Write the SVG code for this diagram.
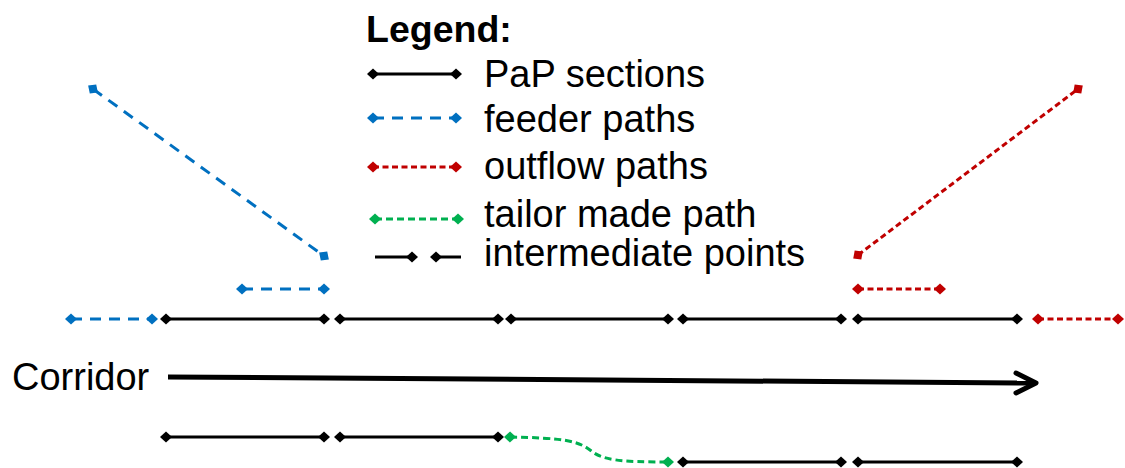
<svg xmlns="http://www.w3.org/2000/svg" width="1125" height="468" viewBox="0 0 1125 468">
<style>
text{font-family:"Liberation Sans",Arial,sans-serif;font-size:38px;fill:#000}
.t{font-weight:bold;font-size:37.5px}
.pap{stroke:#000;stroke-width:3;fill:none;marker-start:url(#dk);marker-end:url(#dk)}
.fee{stroke:#0070C0;stroke-width:3;fill:none;stroke-dasharray:11 8;marker-start:url(#db);marker-end:url(#db)}
.out{stroke:#C00000;stroke-width:3;fill:none;stroke-dasharray:6 3.5;marker-start:url(#dr);marker-end:url(#dr)}
.tai{stroke:#00B050;stroke-width:3;fill:none;stroke-dasharray:7 4;marker-start:url(#dg);marker-end:url(#dg)}
.ln{stroke:#000;stroke-width:3;fill:none}
</style>
<defs>
<marker id="dk" markerUnits="userSpaceOnUse" viewBox="-6 -6 12 12" markerWidth="12" markerHeight="12" orient="auto"><path d="M-6,0 L0,-5.5 L6,0 L0,5.5 Z" fill="#000"/></marker>
<marker id="db" markerUnits="userSpaceOnUse" viewBox="-6 -6 12 12" markerWidth="12" markerHeight="12" orient="auto"><path d="M-6,0 L0,-5.5 L6,0 L0,5.5 Z" fill="#0070C0"/></marker>
<marker id="dr" markerUnits="userSpaceOnUse" viewBox="-6 -6 12 12" markerWidth="12" markerHeight="12" orient="auto"><path d="M-6,0 L0,-5.5 L6,0 L0,5.5 Z" fill="#C00000"/></marker>
<marker id="dg" markerUnits="userSpaceOnUse" viewBox="-6 -6 12 12" markerWidth="12" markerHeight="12" orient="auto"><path d="M-6,0 L0,-5.5 L6,0 L0,5.5 Z" fill="#00B050"/></marker>
</defs>
<g id="legend">
<text class="t" x="366" y="42">Legend:</text>
<line class="pap" x1="373" y1="74" x2="456" y2="74"/>
<text x="484" y="87">PaP sections</text>
<line class="fee" x1="373" y1="118" x2="456" y2="118"/>
<text x="484" y="132">feeder paths</text>
<line class="out" x1="373" y1="167" x2="456" y2="167"/>
<text x="484" y="179">outflow paths</text>
<line class="tai" x1="375" y1="219" x2="458" y2="219"/>
<text x="484" y="227">tailor made path</text>
<line class="ln" x1="375" y1="257" x2="412" y2="257" style="marker-end:url(#dk)"/>
<line class="ln" x1="461" y1="257" x2="436" y2="257" style="marker-end:url(#dk)"/>
<text x="484" y="266">intermediate points</text>
</g>
<g id="corridor-label"><text x="12" y="390">Corridor</text></g>
<g id="feeder-paths">
<line id="feeder-1" class="fee" x1="93" y1="89" x2="324" y2="256"/>
<line id="feeder-2" class="fee" x1="242" y1="289" x2="324" y2="289"/>
<line id="feeder-3" class="fee" x1="71" y1="319" x2="152" y2="319"/>
</g>
<g id="outflow-paths">
<line id="outflow-1" class="out" x1="858" y1="255" x2="1078" y2="89"/>
<line id="outflow-2" class="out" x1="858" y1="289" x2="940" y2="289"/>
<line id="outflow-3" class="out" x1="1038" y1="319" x2="1118" y2="319"/>
</g>
<g id="pap-main">
<line id="pap-1" class="pap" x1="166" y1="319" x2="324" y2="319"/>
<line id="pap-2" class="pap" x1="340" y1="319" x2="498" y2="319"/>
<line id="pap-3" class="pap" x1="511" y1="319" x2="668" y2="319"/>
<line id="pap-4" class="pap" x1="683" y1="319" x2="841" y2="319"/>
<line id="pap-5" class="pap" x1="858" y1="319" x2="1017" y2="319"/>
</g>
<g id="pap-bottom">
<line id="pap-b1" class="pap" x1="166" y1="437" x2="324" y2="437"/>
<line id="pap-b2" class="pap" x1="340" y1="437" x2="498" y2="437"/>
<path id="tailor" class="tai" d="M510,437 C565,438 578,441 590,450 C602,460 618,462 668,462"/>
<line id="pap-b3" class="pap" x1="683" y1="462" x2="841" y2="462"/>
<line id="pap-b4" class="pap" x1="858" y1="462" x2="1017" y2="462"/>
</g>
<g id="connectors">
<line x1="168" y1="377" x2="1034" y2="383" stroke="#000" stroke-width="5"/>
<polyline points="1016,373 1036,383 1016,393" fill="none" stroke="#000" stroke-width="5" stroke-linecap="round" stroke-linejoin="round"/>
</g>
</svg>
